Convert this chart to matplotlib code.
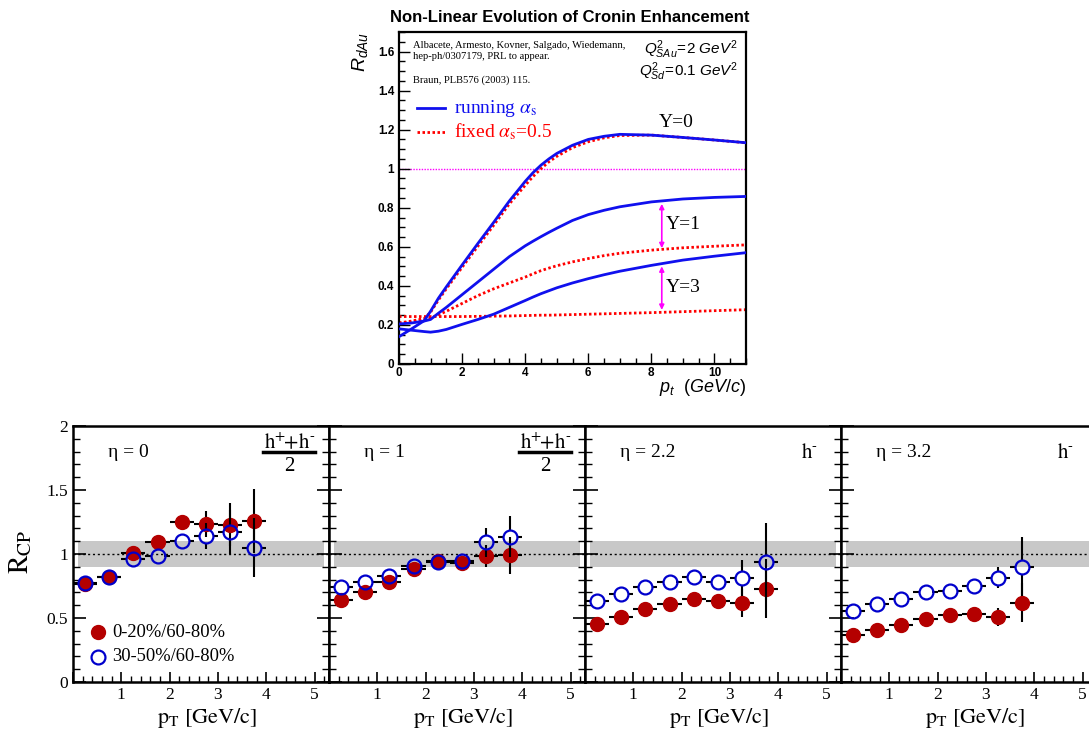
import matplotlib
matplotlib.use("Agg")
import matplotlib.pyplot as plt
import numpy as np
from matplotlib.ticker import MultipleLocator, FuncFormatter

plt.rcParams['font.family'] = ['Liberation Sans', 'DejaVu Sans']
plt.rcParams['mathtext.fontset'] = 'custom'
plt.rcParams['mathtext.rm'] = 'Liberation Sans'
plt.rcParams['mathtext.it'] = 'Liberation Sans:italic'
plt.rcParams['mathtext.bf'] = 'Liberation Sans:bold'

# ---------------- top panel data (theory curves) ----------------
pt_grid = [0, 0.4, 0.8, 1.0, 1.25, 1.5, 2, 2.5, 3, 3.5, 4, 4.25, 4.5, 4.75, 5, 5.5, 6, 6.5, 7, 8, 9, 10, 11]
run_y0 = [0.14, 0.18, 0.222, 0.27, 0.337, 0.395, 0.507, 0.617, 0.725, 0.835, 0.935, 0.98, 1.018, 1.05, 1.078, 1.12, 1.15, 1.166, 1.176, 1.172, 1.16, 1.147, 1.133]
fix_y0 = [0.21, 0.22, 0.233, 0.265, 0.328, 0.385, 0.495, 0.603, 0.71, 0.82, 0.915, 0.96, 1.0, 1.035, 1.063, 1.108, 1.138, 1.158, 1.17, 1.172, 1.16, 1.147, 1.133]
run_y1 = [0.205, 0.21, 0.22, 0.228, 0.26, 0.29, 0.355, 0.42, 0.485, 0.55, 0.605, 0.629, 0.652, 0.674, 0.695, 0.735, 0.765, 0.787, 0.805, 0.83, 0.845, 0.853, 0.858]
fix_y1 = [0.21, 0.215, 0.228, 0.235, 0.252, 0.27, 0.31, 0.35, 0.385, 0.415, 0.445, 0.462, 0.478, 0.491, 0.503, 0.523, 0.54, 0.555, 0.567, 0.583, 0.595, 0.603, 0.61]
run_y3 = [0.18, 0.173, 0.166, 0.163, 0.168, 0.177, 0.203, 0.228, 0.255, 0.29, 0.325, 0.343, 0.36, 0.375, 0.39, 0.415, 0.437, 0.457, 0.475, 0.505, 0.532, 0.552, 0.57]
fix_y3 = [0.243, 0.243, 0.243, 0.243, 0.243, 0.243, 0.243, 0.244, 0.245, 0.246, 0.248, 0.249, 0.25, 0.25, 0.251, 0.253, 0.255, 0.257, 0.259, 0.263, 0.268, 0.273, 0.278]
arrow_pt = 8.33
arrow_y1 = (0.593, 0.82)
arrow_y3 = (0.277, 0.50)
rapidity_labels = ["Y=0", "Y=1", "Y=3"]
rapidity_label_pos = [(8.25, 1.235), (8.47, 0.713), (8.47, 0.39)]

# ---------------- bottom panels data (R_CP) ----------------
pt_bins = [0.25, 0.75, 1.25, 1.75, 2.25, 2.75, 3.25, 3.75]
pt_halfwidth = 0.25
eta_labels = ["η = 0", "η = 1", "η = 2.2", "η = 3.2"]
species = ["frac", "frac", "hminus", "hminus"]
central_vals = [
    [0.765, 0.82, 1.005, 1.09, 1.25, 1.235, 1.23, 1.26],
    [0.64, 0.70, 0.78, 0.88, 0.945, 0.93, 0.985, 0.99],
    [0.45, 0.51, 0.57, 0.61, 0.65, 0.63, 0.62, 0.73],
    [0.37, 0.41, 0.445, 0.495, 0.52, 0.53, 0.51, 0.62],
]
central_errs = [
    [0.02, 0.02, 0.03, 0.03, 0.05, 0.10, 0.17, 0.25],
    [0.02, 0.02, 0.02, 0.02, 0.03, 0.03, 0.085, 0.146],
    [0.01, 0.01, 0.02, 0.02, 0.02, 0.05, 0.11, 0.23],
    [0.01, 0.01, 0.01, 0.02, 0.02, 0.02, 0.07, 0.15],
]
semi_vals = [
    [0.775, 0.82, 0.96, 0.985, 1.10, 1.14, 1.17, 1.05],
    [0.745, 0.785, 0.83, 0.905, 0.94, 0.945, 1.09, 1.135],
    [0.635, 0.69, 0.745, 0.78, 0.82, 0.78, 0.81, 0.94],
    [0.555, 0.61, 0.645, 0.70, 0.71, 0.75, 0.815, 0.90],
]
semi_errs = [
    [0.02, 0.02, 0.03, 0.03, 0.04, 0.10, 0.17, 0.23],
    [0.02, 0.02, 0.02, 0.02, 0.03, 0.03, 0.11, 0.16],
    [0.01, 0.02, 0.02, 0.02, 0.02, 0.05, 0.14, 0.30],
    [0.01, 0.01, 0.02, 0.02, 0.02, 0.04, 0.08, 0.23],
]
band_low, band_high = 0.9, 1.1
band_x = (0.1, 5.2)
legend_labels = ["0-20%/60-80%", "30-50%/60-80%"]

RED = '#b40000'
BLUE = '#0000cc'
LBLUE = '#1010ee'
MS = 10  # marker size (points)

fig = plt.figure(figsize=(10.89, 7.33), dpi=100)
W, H = 1089.0, 733.0

# ================= top panel =================
axt = fig.add_axes([399 / W, 1 - 364 / H, 347 / W, 332 / H])
axt.set_xlim(0, 11)
axt.set_ylim(0, 1.7)
lw = 2.0
dot = (0, (0.9, 0.9))
axt.plot(pt_grid, fix_y0, color='red', lw=lw, ls=dot, zorder=2)
axt.plot(pt_grid, run_y0, color=LBLUE, lw=lw, zorder=3)
axt.plot(pt_grid, run_y1, color=LBLUE, lw=lw, zorder=3)
axt.plot(pt_grid, fix_y1, color='red', lw=lw, ls=dot, zorder=2)
axt.plot(pt_grid, run_y3, color=LBLUE, lw=lw, zorder=3)
axt.plot(pt_grid, fix_y3, color='red', lw=lw, ls=dot, zorder=2)
axt.axhline(1.0, color='#ff00ff', lw=1.0, ls=(0, (1, 1)), zorder=1)
for (ylo, yhi) in (arrow_y1, arrow_y3):
    axt.annotate('', xy=(arrow_pt, yhi), xytext=(arrow_pt, ylo),
                 arrowprops=dict(arrowstyle='<|-|>', color='#ff00ff', lw=1.2,
                                 mutation_scale=7, shrinkA=0, shrinkB=0))
for lab, (xx, yy) in zip(rapidity_labels, rapidity_label_pos):
    axt.text(xx, yy, lab, fontsize=14, family='Liberation Serif', ha='left', va='center')

axt.xaxis.set_major_locator(MultipleLocator(2))
axt.xaxis.set_minor_locator(MultipleLocator(0.5))
axt.yaxis.set_major_locator(MultipleLocator(0.2))
axt.yaxis.set_minor_locator(MultipleLocator(0.05))
axt.yaxis.set_major_formatter(FuncFormatter(lambda v, p: ('%g' % round(v, 2)) if v < 1.65 else ''))
axt.xaxis.set_major_formatter(FuncFormatter(lambda v, p: '%g' % v))
axt.tick_params(which='both', direction='in', top=False, right=False)
axt.tick_params(which='major', length=8, width=1.0, labelsize=8.5)
axt.tick_params(axis='x', which='major', pad=2)
axt.tick_params(which='minor', length=4, width=1.0)
for lab in axt.get_xticklabels() + axt.get_yticklabels():
    lab.set_fontweight('bold')
for s in axt.spines.values():
    s.set_linewidth(1.6)

cite_kw = dict(transform=axt.transAxes, fontsize=7.6, family='Liberation Serif', ha='left', va='center')
axt.text(0.039, 0.959, "Albacete, Armesto, Kovner, Salgado, Wiedemann,", **cite_kw)
axt.text(0.039, 0.925, "hep-ph/0307179, PRL to appear.", **cite_kw)
axt.text(0.039, 0.855, "Braun, PLB576 (2003) 115.", **cite_kw)
axt.text(0.977, 0.946, r"$Q^{2}_{SAu}\!=\!2\ GeV^{2}$", transform=axt.transAxes,
         fontsize=11, ha='right', va='center', math_fontfamily='custom')
axt.text(0.977, 0.880, r"$Q^{2}_{Sd}\!=\!0.1\ GeV^{2}$", transform=axt.transAxes,
         fontsize=11, ha='right', va='center', math_fontfamily='custom')

# legend of the top panel
axt.plot([0.052, 0.133], [0.771, 0.771], transform=axt.transAxes, color=LBLUE, lw=2)
axt.plot([0.052, 0.133], [0.699, 0.699], transform=axt.transAxes, color='red', lw=2, ls=dot)
axt.text(0.159, 0.771, r"running $\alpha_{\rm s}$", transform=axt.transAxes, color=LBLUE,
         fontsize=14, family='Liberation Serif', ha='left', va='center', math_fontfamily='stix')
axt.text(0.159, 0.699, r"fixed $\alpha_{\rm s}$=0.5", transform=axt.transAxes, color='red',
         fontsize=14, family='Liberation Serif', ha='left', va='center', math_fontfamily='stix')

axt.text(-0.112, 1.0, r"$R_{dAu}$", transform=axt.transAxes, rotation=90, fontsize=14,
         ha='center', va='top', math_fontfamily='custom')
axt.text(1.0, -0.07, r"$p_{t}$  $(GeV/c)$", transform=axt.transAxes, fontsize=13,
         ha='right', va='center', math_fontfamily='custom')
fig.text(570 / W, 1 - 17 / H, "Non-Linear Evolution of Cronin Enhancement",
         fontsize=12, fontweight='bold', ha='center', va='center')


def gapped_errorbars(ax, x, y, yerr, xerr, color='black', lw=1.5, zorder=2):
    """Error bars drawn like ROOT: interrupted where the (open) marker sits."""
    x = np.asarray(x, float)
    y = np.asarray(y, float)
    yerr = np.asarray(yerr, float)
    # marker radius converted to data units through the axes transform
    r_px = MS / 2 * fig.dpi / 72.0
    p0 = ax.transData.transform((0, 0))
    p1 = ax.transData.transform((1, 1))
    rx = r_px / (p1[0] - p0[0])
    ry = r_px / (p1[1] - p0[1])
    ax.hlines(y, x - xerr, x - rx, color=color, lw=lw, zorder=zorder)
    ax.hlines(y, x + rx, x + xerr, color=color, lw=lw, zorder=zorder)
    big = yerr > ry
    ax.vlines(x[big], y[big] + ry, y[big] + yerr[big], color=color, lw=lw, zorder=zorder)
    ax.vlines(x[big], y[big] - yerr[big], y[big] - ry, color=color, lw=lw, zorder=zorder)


# ================= bottom panels =================
lefts = [73, 329, 585, 841]
for i in range(4):
    ax = fig.add_axes([lefts[i] / W, 1 - 682 / H, 256 / W, 256 / H])
    ax.set_xlim(0, 5.3)
    ax.set_ylim(0, 2)
    ax.fill_between(band_x, band_low, band_high, color='#c8c8c8', lw=0, zorder=0)
    ax.axhline(1.0, color='black', lw=1.0, ls=(0, (1.5, 2)), zorder=1)
    gapped_errorbars(ax, pt_bins, central_vals[i], central_errs[i], pt_halfwidth, zorder=2)
    ax.plot(pt_bins, central_vals[i], ls='none', marker='o', ms=MS, mfc=RED, mec=RED, zorder=3)
    gapped_errorbars(ax, pt_bins, semi_vals[i], semi_errs[i], pt_halfwidth, zorder=4)
    ax.plot(pt_bins, semi_vals[i], ls='none', marker='o', ms=MS, mfc='none', mec=BLUE,
            mew=1.6, zorder=5)
    ax.xaxis.set_major_locator(MultipleLocator(1))
    ax.xaxis.set_minor_locator(MultipleLocator(0.2))
    ax.yaxis.set_major_locator(MultipleLocator(0.5))
    ax.yaxis.set_minor_locator(MultipleLocator(0.1))
    ax.xaxis.set_major_formatter(FuncFormatter(lambda v, p: '' if v < 0.5 else '%g' % v))
    ax.yaxis.set_major_formatter(FuncFormatter(lambda v, p: '%g' % v))
    ax.tick_params(which='both', direction='in', top=False, right=(i < 3))
    ax.tick_params(which='major', length=9, width=1.2, labelsize=12.5)
    ax.tick_params(which='minor', length=5, width=1.0)
    ax.tick_params(axis='x', which='major', length=7)
    ax.tick_params(axis='x', which='minor', length=4)
    if i > 0:
        ax.tick_params(labelleft=False)
    for lab in ax.get_xticklabels() + ax.get_yticklabels():
        lab.set_fontfamily('Liberation Serif')
    for s in ax.spines.values():
        s.set_linewidth(1.8)
    ax.text(0.135, 0.898, eta_labels[i], transform=ax.transAxes, fontsize=14,
            family='Liberation Serif', ha='left', va='center')
    if species[i] == 'frac':
        ax.text(0.845, 0.936, r"$\mathrm{h^{+}\!\!+\!h^{\text{-}}}$", transform=ax.transAxes,
                fontsize=15, ha='center', va='center', math_fontfamily='stix')
        ax.plot([0.742, 0.945], [0.897, 0.897], transform=ax.transAxes, color='black',
                lw=2.5, clip_on=False)
        ax.text(0.845, 0.84, "2", transform=ax.transAxes, fontsize=15,
                family='Liberation Serif', ha='center', va='center')
    else:
        ax.text(0.845, 0.898, r"$\mathrm{h^{\text{-}}}$", transform=ax.transAxes,
                fontsize=15, ha='left', va='center', math_fontfamily='stix')
    ax.text(0.72, -0.14, r"$\mathrm{p_{T}\ [GeV/c]}$", transform=ax.transAxes,
            fontsize=16, ha='right', va='center', math_fontfamily='stix')
    if i == 0:
        ax.text(-0.203, 0.51, r"$\mathrm{R_{CP}}$", transform=ax.transAxes, rotation=90,
                fontsize=20, ha='center', va='center', math_fontfamily='stix')
        # legend (marker samples + labels)
        ax.plot([0.098], [0.195], transform=ax.transAxes, ls='none', marker='o', ms=MS,
                mfc=RED, mec=RED, clip_on=False)
        ax.plot([0.098], [0.098], transform=ax.transAxes, ls='none', marker='o', ms=MS,
                mfc='none', mec=BLUE, mew=1.6, clip_on=False)
        ax.text(0.152, 0.195, legend_labels[0], transform=ax.transAxes, fontsize=13.3,
                family='Liberation Serif', ha='left', va='center')
        ax.text(0.152, 0.098, legend_labels[1], transform=ax.transAxes, fontsize=13.3,
                family='Liberation Serif', ha='left', va='center')

fig.savefig('out.png', dpi=100)
